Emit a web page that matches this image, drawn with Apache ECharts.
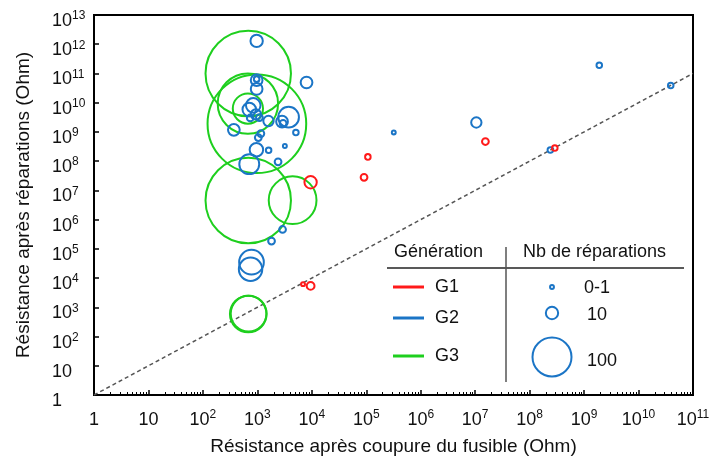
<!DOCTYPE html>
<html>
<head>
<meta charset="utf-8">
<script src="https://cdn.jsdelivr.net/npm/echarts@6/dist/echarts.min.js"></script>
<style>
  html, body { margin: 0; padding: 0; background: #fff; }
  #chart { width: 728px; height: 461px; }
</style>
</head>
<body>
<div id="chart"></div>
<script>
// [résistance après coupure (Ohm), résistance après réparations (Ohm), nb de réparations]
const g1 = [
  [9500, 1.9e7, 10],
  [9500, 5400, 4],
  [6900, 6200, 1],
  [1.07e5, 1.4e8, 2],
  [9.1e4, 2.8e7, 3],
  [1.54e7, 4.7e8, 3],
  [2.9e8, 2.8e8, 2]
];

const g2 = [
  [8000, 4.9e10, 9],
  [3.2e5, 9.6e8, 1],
  [1.05e7, 2.1e9, 7],
  [2.4e8, 2.4e8, 2],
  [1.9e9, 1.9e11, 2],
  [3.9e10, 3.9e10, 2],
  [970, 1.3e12, 10],
  [970, 5.9e10, 9],
  [970, 6.4e10, 2],
  [970, 2.95e10, 9],
  [840, 8.1e9, 14],
  [710, 5.8e9, 12],
  [940, 4.0e9, 7],
  [740, 3.0e9, 3],
  [1090, 3.1e9, 3],
  [1600, 2.36e9, 7],
  [3750, 3.2e9, 28],
  [2840, 2.25e9, 9],
  [2970, 1.97e9, 3],
  [5100, 9.5e8, 2],
  [370, 1.18e9, 9],
  [1160, 8.8e8, 3],
  [1040, 6.4e8, 3],
  [960, 2.45e8, 12],
  [1610, 2.36e8, 2],
  [3200, 3.3e8, 1],
  [2400, 9.5e7, 3],
  [710, 7.9e7, 26],
  [2900, 4.6e5, 3],
  [1820, 1.85e5, 3],
  [780, 3.5e4, 40],
  [750, 2.0e4, 36]
];

const g3 = [
  [680, 1.0e11, 480],
  [980, 1.9e9, 640],
  [670, 9.3e9, 240],
  [670, 6.3e9, 60],
  [680, 4.5e6, 480],
  [4440, 4.6e6, 150],
  [680, 590, 88],
  [690, 610, 84]
];

const diagonal = [[1, 1], [1e11, 1e11]];

const generations = ['G1', 'G2', 'G3'];
const sizeLegend = [['0-1', 1], ['10', 10], ['100', 100]];

const colors = { G1: '#ff1a1a', G2: '#1b75c6', G3: '#1ecf1e' };
const textColor = '#111';
const font = 'Liberation Sans, Arial, sans-serif';

// diametre du cercle selon le nombre de réparations
const bubble = n => 3.9 * Math.sqrt(n);

// graduations secondaires 2..9 de chaque décade
const minorX = [];
for (let d = 0; d < 11; d++) {
  for (let k = 2; k <= 9; k++) minorX.push(k * Math.pow(10, d));
}

const powLabel = v => {
  const e = Math.round(Math.log10(v));
  if (e === 0) return '{b|1}';
  if (e === 1) return '{b|10}';
  return '{b|10}{s|' + e + '}';
};

const rich = {
  b: { fontSize: 18, lineHeight: 22, color: textColor, fontFamily: font },
  s: { fontSize: 12, lineHeight: 14, color: textColor, fontFamily: font, verticalAlign: 'top' }
};

function scatter(name, data, z) {
  return {
    name,
    type: 'scatter',
    data,
    z,
    symbol: 'circle',
    symbolSize: v => bubble(v[2]),
    itemStyle: { color: 'rgba(0,0,0,0)', borderColor: colors[name], borderWidth: 2, opacity: 1 },
    emphasis: { disabled: true }
  };
}

const chart = echarts.init(document.getElementById('chart'), null, { renderer: 'canvas' });

// légende dessinée à la main (tableau Génération / Nb de réparations)
const legendGraphics = [
  { type: 'text', left: 394, top: 243, style: { text: 'Génération', font: '18px ' + font, fill: textColor } },
  { type: 'text', left: 523, top: 243, style: { text: 'Nb de réparations', font: '18px ' + font, fill: textColor } },
  { type: 'line', shape: { x1: 387, y1: 268, x2: 684, y2: 268 }, style: { stroke: '#222', lineWidth: 1.5 } },
  { type: 'line', shape: { x1: 506, y1: 247, x2: 506, y2: 382 }, style: { stroke: '#555', lineWidth: 1.5 } }
];
const rowY = [287, 318, 356];
generations.forEach((g, i) => {
  legendGraphics.push(
    { type: 'line', shape: { x1: 393, y1: rowY[i], x2: 424, y2: rowY[i] }, style: { stroke: colors[g], lineWidth: 3 } },
    { type: 'text', left: 435, top: rowY[i] - 9, style: { text: g, font: '18px ' + font, fill: textColor } }
  );
});
const sizeY = [287, 313, 357];
const sizeTextY = [288, 315, 361];
sizeLegend.forEach(([label, n], i) => {
  legendGraphics.push(
    { type: 'circle', shape: { cx: 552, cy: sizeY[i], r: bubble(n) / 2 }, style: { fill: 'none', stroke: colors.G2, lineWidth: 2 } },
    { type: 'text', left: i === 0 ? 584 : 587, top: sizeTextY[i] - 9, style: { text: label, font: '18px ' + font, fill: textColor } }
  );
});

chart.setOption({
  animation: false,
  backgroundColor: '#fff',
  textStyle: { fontFamily: font },
  grid: { left: 94, top: 15, width: 599, height: 387, show: true, borderColor: '#000', borderWidth: 2 },
  xAxis: [{
    type: 'log',
    logBase: 10,
    min: 1,
    max: 1e11,
    interval: 1,
    name: 'Résistance après coupure du fusible (Ohm)',
    nameLocation: 'middle',
    nameGap: 42,
    nameTextStyle: { fontSize: 19, color: textColor, fontFamily: font },
    axisLine: { lineStyle: { color: '#000', width: 2 } },
    axisTick: { inside: true, length: 5, lineStyle: { color: '#000', width: 1.5 } },
    splitLine: { show: false },
    axisLabel: { margin: 14, formatter: powLabel, rich, showMinLabel: true, showMaxLabel: true }
  }, {
    type: 'log',
    logBase: 10,
    min: 1,
    max: 1e11,
    position: 'bottom',
    axisLine: { show: false },
    axisLabel: { show: false },
    splitLine: { show: false },
    axisTick: { inside: true, length: 3, customValues: minorX, lineStyle: { color: '#000', width: 1 } }
  }],
  yAxis: {
    type: 'log',
    logBase: 10,
    min: 1,
    max: 1e13,
    interval: 1,
    name: 'Résistance après réparations (Ohm)',
    nameLocation: 'middle',
    nameGap: 61,
    nameTextStyle: { fontSize: 19, color: textColor, fontFamily: font },
    axisLine: { lineStyle: { color: '#000', width: 2 } },
    axisTick: { inside: true, length: 5, lineStyle: { color: '#000', width: 1.5 } },
    splitLine: { show: false },
    axisLabel: { align: 'left', margin: 42, padding: [12, 0, 0, 0], formatter: powLabel, rich, showMinLabel: true, showMaxLabel: true }
  },
  series: [
    {
      type: 'line',
      data: diagonal,
      symbol: 'none',
      silent: true,
      z: 1,
      lineStyle: { color: '#555', width: 1.5, type: [4, 3] }
    },
    scatter('G3', g3, 2),
    scatter('G2', g2, 3),
    scatter('G1', g1, 4)
  ],
  graphic: legendGraphics
});
</script>
</body>
</html>
